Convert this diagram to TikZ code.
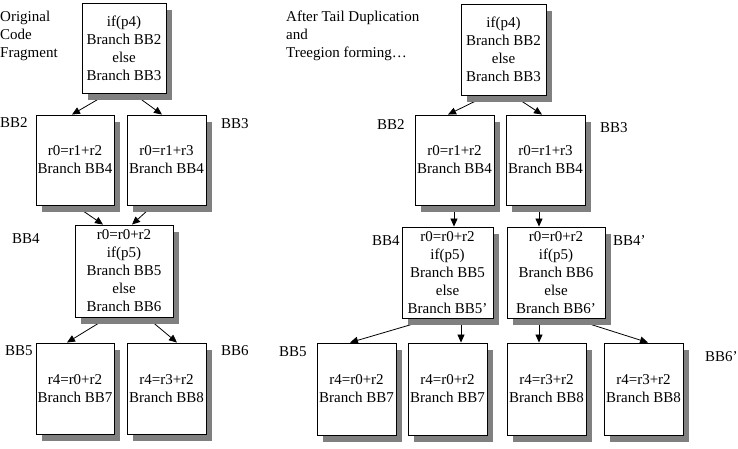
\documentclass[tikz,border=0pt]{standalone}
\usepackage{fontspec}
\setmainfont{Liberation Serif}
\usetikzlibrary{arrows.meta}
\definecolor{shadowgray}{RGB}{128,128,128}
\pgfdeclarelayer{connlayer}
\pgfdeclarelayer{shadowlayer}
\pgfsetlayers{connlayer,shadowlayer,main}
\tikzset{
  bbox/.style={draw=black, line width=0.9pt, fill=white, align=center, inner sep=0pt,
    font=\fontsize{15}{18}\selectfont},
  sbox/.style={fill=shadowgray, draw=none},
  lbl/.style={anchor=west, inner sep=0pt, font=\fontsize{15}{18}\selectfont, align=left},
  conn/.style={line width=0.8pt, -{Triangle[length=8pt,width=7pt]}}
}
\newcommand{\boxshadow}[1]{%
  \begin{pgfonlayer}{shadowlayer}
  \fill[sbox] ([shift={(6pt,-7pt)}]#1.south west) rectangle ([shift={(6pt,-7pt)}]#1.north east);
  \end{pgfonlayer}}
\begin{document}
\begin{tikzpicture}[x=1pt,y=-1pt]
\useasboundingbox (0,0) rectangle (738,448);
% ---------- left: original ----------
\node[lbl] (origlbl) at (0,35.5) {Original\\Code\\Fragment};
\node[bbox, minimum width=84pt, minimum height=90pt] (T1) at (124,48) {if(p4)\\Branch BB2\\else\\Branch BB3};
\node[bbox, minimum width=78pt, minimum height=90pt] (L2) at (75,160) {r0=r1+r2\\Branch BB4};
\node[bbox, minimum width=79pt, minimum height=90pt] (L3) at (166.5,160) {r0=r1+r3\\Branch BB4};
\node[bbox, minimum width=98pt, minimum height=92pt] (L4) at (124,271) {r0=r0+r2\\if(p5)\\Branch BB5\\else\\Branch BB6};
\node[bbox, minimum width=78pt, minimum height=91pt] (L5) at (75,388.5) {r4=r0+r2\\Branch BB7};
\node[bbox, minimum width=79pt, minimum height=91pt] (L6) at (166.5,388.5) {r4=r3+r2\\Branch BB8};
\node[lbl] (lBB2) at (0,123) {BB2};
\node[lbl] (lBB3) at (221,124) {BB3};
\node[lbl] (lBB4) at (12,239) {BB4};
\node[lbl] (lBB5) at (5,351) {BB5};
\node[lbl] (lBB6) at (221,351) {BB6};
% ---------- right: after tail duplication ----------
\node[lbl] (afterlbl) at (286,35.5) {After Tail Duplication\\and\\Treegion forming…};
\node[bbox, minimum width=85pt, minimum height=91pt] (R1) at (503.5,49.5) {if(p4)\\Branch BB2\\else\\Branch BB3};
\node[bbox, minimum width=79pt, minimum height=90pt] (R2) at (454.5,160) {r0=r1+r2\\Branch BB4};
\node[bbox, minimum width=79pt, minimum height=90pt] (R3) at (545.5,160) {r0=r1+r3\\Branch BB4};
\node[bbox, minimum width=91pt, minimum height=91pt] (R4) at (447.5,272.5) {r0=r0+r2\\if(p5)\\Branch BB5\\else\\Branch BB5’};
\node[bbox, minimum width=98pt, minimum height=91pt] (R4b) at (556,272.5) {r0=r0+r2\\if(p5)\\Branch BB6\\else\\Branch BB6’};
\node[bbox, minimum width=79pt, minimum height=92pt] (R5) at (356.5,389) {r4=r0+r2\\Branch BB7};
\node[bbox, minimum width=79pt, minimum height=92pt] (R5b) at (447.5,389) {r4=r0+r2\\Branch BB7};
\node[bbox, minimum width=79pt, minimum height=92pt] (R6) at (546.5,389) {r4=r3+r2\\Branch BB8};
\node[bbox, minimum width=79pt, minimum height=92pt] (R6b) at (643.5,389) {r4=r3+r2\\Branch BB8};
\node[lbl] (rBB2) at (377,125) {BB2};
\node[lbl] (rBB3) at (600,128) {BB3};
\node[lbl] (rBB4) at (372,241) {BB4};
\node[lbl] (rBB4b) at (613,241) {BB4’};
\node[lbl] (rBB5) at (279,352) {BB5};
\node[lbl] (rBB6b) at (705,357) {BB6’};
% ---------- shadows ----------
\boxshadow{T1}\boxshadow{L2}\boxshadow{L3}\boxshadow{L4}\boxshadow{L5}\boxshadow{L6}
\boxshadow{R1}\boxshadow{R2}\boxshadow{R3}\boxshadow{R4}\boxshadow{R4b}
\boxshadow{R5}\boxshadow{R5b}\boxshadow{R6}\boxshadow{R6b}
% ---------- connectors ----------
\begin{pgfonlayer}{connlayer}
\draw[conn] ([xshift=-16pt]T1.south) -- ([xshift=-3pt]L2.north);
\draw[conn] ([xshift=9pt]T1.south) -- ([xshift=-4.5pt]L3.north);
\draw[conn] (L2.south) -- ([xshift=-21pt]L4.north);
\draw[conn] ([xshift=-13.5pt]L3.south) -- ([xshift=8pt]L4.north);
\draw[conn] ([xshift=-16pt]L4.south) -- ([xshift=-8pt]L5.north);
\draw[conn] ([xshift=23pt]L4.south) -- ([xshift=10.5pt]L6.north);
\draw[conn] ([xshift=-16.5pt]R1.south) -- ([xshift=-6.5pt]R2.north);
\draw[conn] ([xshift=9.5pt]R1.south) -- ([xshift=-3.5pt]R3.north);
\draw[conn] ([xshift=-0.5pt]R2.south) -- ([xshift=6.5pt]R4.north);
\draw[conn] ([xshift=-6.5pt]R3.south) -- ([xshift=-17pt]R4b.north);
\draw[conn] ([xshift=-15.5pt]R4.south) -- ([xshift=-6.5pt]R5.north);
\draw[conn] ([xshift=13.5pt]R4.south) -- ([xshift=13.5pt]R5b.north);
\draw[conn] ([xshift=-17pt]R4b.south) -- ([xshift=-7.5pt]R6.north);
\draw[conn] ([xshift=16pt]R4b.south) -- ([xshift=4.5pt]R6b.north);
\end{pgfonlayer}
\end{tikzpicture}
\end{document}
